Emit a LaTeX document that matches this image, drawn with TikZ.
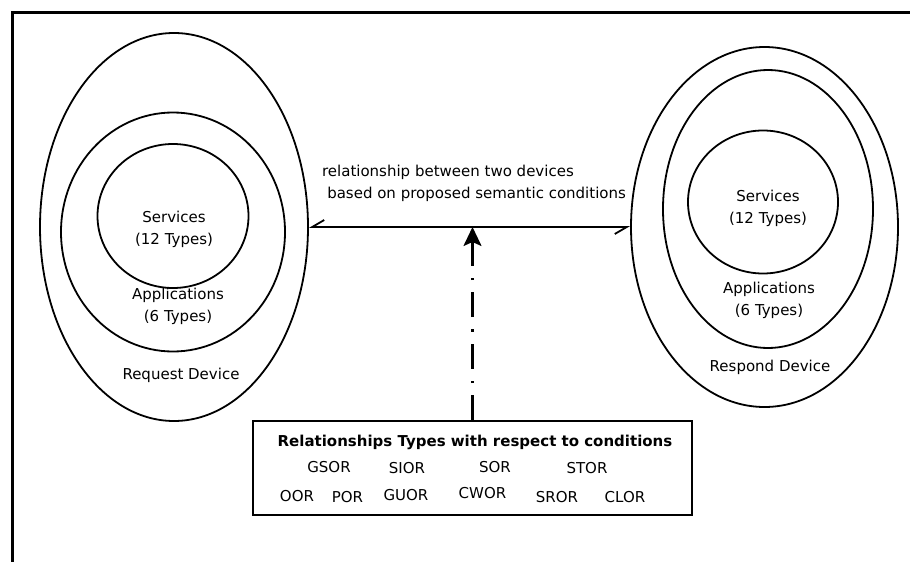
\documentclass[tikz,border=0pt]{standalone}
\usepackage{fontspec}
\setmainfont{DejaVu Sans}
\usetikzlibrary{shapes.geometric,arrows.meta}

\tikzset{
  ring/.style={draw, ellipse, line width=0.9pt, inner sep=0pt},
  lbl/.style={align=center, font=\fontsize{7.5}{11}\selectfont},
  reltype/.style={font=\fontsize{7.5}{9}\selectfont},
  relarrow/.style={line width=0.9pt,
    {Straight Barb[harpoon,swap,length=6pt,width=7pt]}-{Straight Barb[harpoon,swap,length=6pt,width=7pt]}},
  condarrow/.style={line width=1.1pt, -{Stealth[length=9.5pt,width=9pt,inset=2pt]},
    dash pattern=on 12.5pt off 6pt on 1.2pt off 6pt},
}

\begin{document}
\begin{tikzpicture}[x=0.5pt, y=-0.5pt]

	\useasboundingbox (0,0) rectangle (910,562);
	\draw[line width=1.5pt] (12,562) -- (12,12) -- (910,12);

	% request device
	\node[ring, minimum width=134pt, minimum height=194pt] (reqdev) at (174,227) {};
	\node[ring, minimum width=112pt, minimum height=119.5pt] (reqapp) at (173,232) {};
	\node[ring, minimum width=75.5pt, minimum height=72pt] (reqsrv) at (173,216) {};
	\node[lbl] (reqsrvtxt) at (174,229) {Services\\(12 Types)};
	\node[lbl] (reqapptxt) at (178,306) {Applications\\(6 Types)};
	\node[lbl] (reqdevtxt) at (181,375) {Request Device};

	% respond device
	\node[ring, minimum width=133.5pt, minimum height=180pt] (resdev) at (764.5,227) {};
	\node[ring, minimum width=105pt, minimum height=139pt] (resapp) at (768,209) {};
	\node[ring, minimum width=75pt, minimum height=71.5pt] (ressrv) at (763,202) {};
	\node[lbl] (ressrvtxt) at (768,208) {Services\\(12 Types)};
	\node[lbl] (resapptxt) at (769,300) {Applications\\(6 Types)};
	\node[lbl] (resdevtxt) at (770,367) {Respond Device};

	\draw[relarrow] (reqdev.east) -- (resdev.west);
	\node[lbl, align=left, anchor=west] (reltxt) at (315,183)
		{relationship between two devices\\\hspace{2.6pt}based on proposed semantic conditions};

	% relationship types
	\node[draw, line width=1pt, minimum width=219.5pt, minimum height=47pt] (conds) at (472.5,468) {};
	\node[font=\bfseries\fontsize{7.5}{9}\selectfont] (condtitle) at (475,442) {Relationships Types with respect to conditions};
	\node[reltype] (gsor) at (329,467) {GSOR};
	\node[reltype] (sior) at (407,468) {SIOR};
	\node[reltype] (sor)  at (495,467) {SOR};
	\node[reltype] (stor) at (587,468) {STOR};
	\node[reltype] (oor)  at (297,496) {OOR};
	\node[reltype] (por)  at (347.5,497) {POR};
	\node[reltype] (guor) at (406,495) {GUOR};
	\node[reltype] (cwor) at (482.5,493) {CWOR};
	\node[reltype] (sror) at (557,497) {SROR};
	\node[reltype] (clor) at (625,497) {CLOR};

	\draw[condarrow] (conds.north) -- (conds.north |- reqdev.east);

\end{tikzpicture}
\end{document}
